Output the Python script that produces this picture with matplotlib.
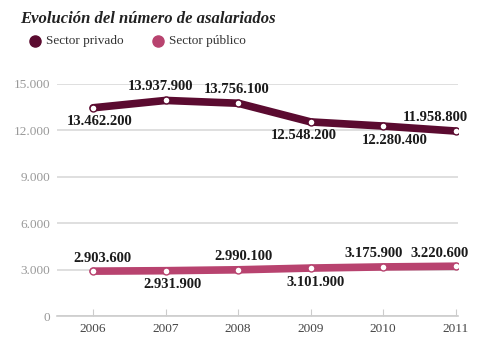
import matplotlib.pyplot as plt
from matplotlib.lines import Line2D

years = [2006, 2007, 2008, 2009, 2010, 2011]
privado = [13462.2, 13937.9, 13756.1, 12548.2, 12280.4, 11958.8]
publico = [2903.6, 2931.9, 2990.1, 3101.9, 3175.9, 3220.6]
privado_txt = ['13.462.200', '13.937.900', '13.756.100', '12.548.200', '12.280.400', '11.958.800']
publico_txt = ['2.903.600', '2.931.900', '2.990.100', '3.101.900', '3.175.900', '3.220.600']
yticks = [0, 3000, 6000, 9000, 12000, 15000]
ytick_labels = ['0', '3.000', '6.000', '9.000', '12.000', '15.000']

# label offsets in pixels (dx, dy)
privado_off = [(7, -14), (-5, 14), (-2, 14), (-7, -14), (11, -14), (-20, 14)]
publico_off = [(9, 13), (7, -14), (5, 13), (5, -14), (-10, 13), (-16, 13)]

c_priv = '#5b0b30'
c_pub = '#b8436f'
grey = '#999999'
serif = 'Liberation Serif'

fig = plt.figure(figsize=(4.78, 3.5), dpi=100)
ax = fig.add_axes([0.119, 0.097, 0.839, 0.663])

for vals, col in [(privado, c_priv), (publico, c_pub)]:
    ax.plot(years, vals, color=col, lw=5.5, solid_capstyle='round', zorder=3)
    ax.plot(years, vals, 'o', ms=5, mfc='white', mec=col, mew=1, zorder=4)

def labels(vals, txts, offs):
    for x, v, t, (dx, dy) in zip(years, vals, txts, offs):
        ax.annotate(t, (x, v), xytext=(dx * 0.72, dy * 0.72), textcoords='offset points',
                    ha='center', va='center', fontsize=10.5, fontweight='bold',
                    family=serif, color='#1a1a1a', zorder=5)

labels(privado, privado_txt, privado_off)
labels(publico, publico_txt, publico_off)

ax.set_xlim(2005.5, 2011.03)
ax.set_ylim(0, 15000)
ax.set_yticks(yticks)
ax.set_yticklabels(ytick_labels, family=serif, fontsize=9.5, color=grey)
ax.set_xticks(years)
ax.set_xticklabels([str(y) for y in years], family=serif, fontsize=9.5, color='#444444')
ax.grid(axis='y', color='#d9d9d9', lw=1.2)
ax.set_axisbelow(True)
for s in ['top', 'right', 'left']:
    ax.spines[s].set_visible(False)
ax.spines['bottom'].set_color('#cccccc')
ax.spines['bottom'].set_linewidth(1.2)
ax.tick_params(axis='y', length=0, pad=5)
ax.tick_params(axis='x', direction='in', length=5, color='#cccccc', pad=5)

fig.text(0.042, 0.945, 'Evolución del número de asalariados', family=serif,
         fontsize=12, fontweight='bold', style='italic', color='#222222', va='center')
fig.add_artist(Line2D([35 / 478], [1 - 41 / 350], marker='o', ms=8, color=c_priv, transform=fig.transFigure))
fig.text(46 / 478, 1 - 41 / 350, 'Sector privado', family=serif, fontsize=9.5, color='#333333', va='center')
fig.add_artist(Line2D([158 / 478], [1 - 41 / 350], marker='o', ms=8, color=c_pub, transform=fig.transFigure))
fig.text(169 / 478, 1 - 41 / 350, 'Sector público', family=serif, fontsize=9.5, color='#333333', va='center')

fig.savefig('out.png', dpi=100, facecolor='white')
